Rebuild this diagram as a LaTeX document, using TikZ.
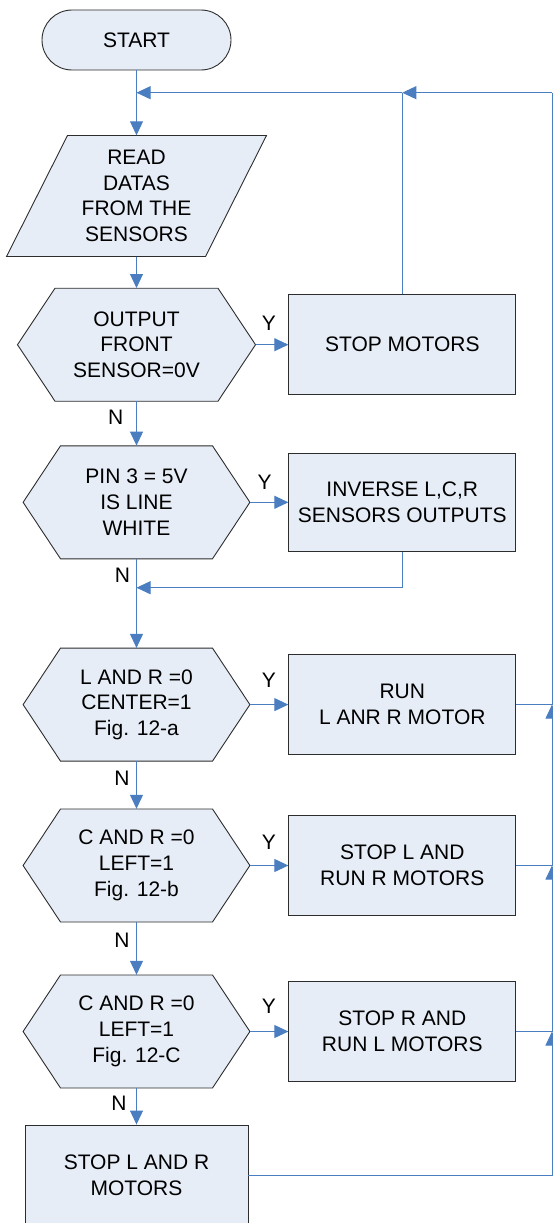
\documentclass[tikz,border=0pt]{standalone}
\usepackage{fontspec}
\setmainfont{Liberation Sans}
\usetikzlibrary{arrows.meta,shapes.misc,calc}
\definecolor{fillc}{RGB}{230,237,247}
\definecolor{bordc}{RGB}{45,45,45}
\definecolor{linec}{RGB}{74,126,193}
\tikzset{
  txt/.style={font=\fontsize{21}{25.7}\selectfont, align=center, inner sep=0pt},
  shapeln/.style={draw=bordc, fill=fillc, line width=0.9pt},
  ghost/.style={txt, rectangle},
  procbox/.style={txt, shapeln, rectangle, minimum width=227pt, minimum height=100pt},
  termbox/.style={txt, shapeln, rounded rectangle, minimum width=189pt, minimum height=60pt},
  conn/.style={draw=linec, line width=1pt},
  arr/.style={conn, -{Triangle[length=14pt,width=13pt]}},
  yn/.style={font=\fontsize{21}{25}\selectfont, inner sep=0pt}
}
% hexagon: name, cx, cy, half width (to point), chamfer, text
\newcommand\hexat[6]{%
  \draw[shapeln] ({#2-#4+#5},{#3-56.5}) -- ({#2+#4-#5},{#3-56.5}) -- ({#2+#4},#3)
    -- ({#2+#4-#5},{#3+56.5}) -- ({#2-#4+#5},{#3+56.5}) -- ({#2-#4},#3) -- cycle;
  \node[ghost, minimum width={2*#4*1pt}, minimum height=113pt] (#1) at (#2,#3) {#6};}
\begin{document}
\begin{tikzpicture}[x=1pt,y=-1pt]
\useasboundingbox (0,0) rectangle (553,1223);
% start
\node[termbox] (start) at (136.5,40) {START};
% input parallelogram
\draw[shapeln] (6.5,256.5) -- (67.5,135.5) -- (266.5,135.5) -- (205.5,256.5) -- cycle;
\node[ghost, minimum width=260pt, minimum height=121pt] (read) at (136.5,196) {READ\\DATAS\\FROM THE\\SENSORS};
% decisions
\hexat{h1}{136.5}{344.7}{119}{37.5}{OUTPUT\\FRONT\\SENSOR=0V}
\hexat{h2}{136.5}{502.3}{113.4}{37.4}{PIN 3 = 5V\\IS LINE\\WHITE}
\hexat{h3}{136.5}{704.6}{113.4}{37.4}{L AND R =0\\CENTER=1\\Fig. 12-a}
\hexat{h4}{136.5}{865.5}{113.4}{37.4}{C AND R =0\\LEFT=1\\Fig. 12-b}
\hexat{h5}{136.5}{1031.5}{113.4}{37.4}{C AND R =0\\LEFT=1\\Fig. 12-C}
% process boxes
\node[procbox] (stop) at (402.3,344.7) {STOP MOTORS};
\node[procbox, minimum height=98pt] (inv) at (402.3,502.3) {INVERSE L,C,R\\SENSORS OUTPUTS};
\node[procbox] (run) at (402.3,704.6) {RUN\\L ANR R MOTOR};
\node[procbox] (stopl) at (402.3,865.5) {STOP L AND\\RUN R MOTORS};
\node[procbox] (stopr) at (402.3,1031.5) {STOP R AND\\RUN L MOTORS};
\node[procbox, minimum width=223pt] (stopall) at (136.5,1175) {STOP L AND R\\MOTORS};
% labels
\node[yn] (y1) at (268.8,323) {Y};
\node[yn] (y2) at (264.6,482) {Y};
\node[yn] (y3) at (268.8,680) {Y};
\node[yn] (y4) at (268.8,842) {Y};
\node[yn] (y5) at (268.8,1006) {Y};
\node[yn] (n1) at (115.7,417) {N};
\node[yn] (n2) at (122.4,575) {N};
\node[yn] (n3) at (122,778) {N};
\node[yn] (n4) at (122,940) {N};
\node[yn] (n5) at (119,1103) {N};
% coordinates
\coordinate (j1) at (136.5,92.7);
\coordinate (j2) at (402.3,92.7);
\coordinate (rt) at (552,92.7);
\coordinate (j3) at (136.5,587.7);
\coordinate (r3) at (552,704.6);
\coordinate (r4) at (552,865.5);
\coordinate (r5) at (552,1031.5);
\coordinate (r6) at (552,1175.7);
% connectors
\draw[arr] (start.south) -- (read.north);
\draw[conn] (stop.north) -- (j2);
\draw[arr] (rt) -- (j2);
\draw[arr] (j2) -- (j1);
\draw[arr] (read.south) -- (h1.north);
\draw[arr] (h1.east) -- (stop.west);
\draw[arr] (h1.south) -- (h2.north);
\draw[arr] (h2.east) -- (inv.west);
\draw[arr] (inv.south) |- (j3);
\draw[arr] (h2.south) -- (h3.north);
\draw[arr] (h3.east) -- (run.west);
\draw[arr] (h3.south) -- (h4.north);
\draw[arr] (h4.east) -- (stopl.west);
\draw[arr] (h4.south) -- (h5.north);
\draw[arr] (h5.east) -- (stopr.west);
\draw[arr] (h5.south) -- (stopall.north);
\draw[conn] (run.east) -- (r3);
\draw[conn] (stopl.east) -- (r4);
\draw[conn] (stopr.east) -- (r5);
\draw[arr] (stopall.east |- r6) -- (r6) -- (r5);
\draw[arr] (r5) -- (r4);
\draw[arr] (r4) -- (r3);
\draw[conn] (r3) -- (rt);
\end{tikzpicture}
\end{document}
